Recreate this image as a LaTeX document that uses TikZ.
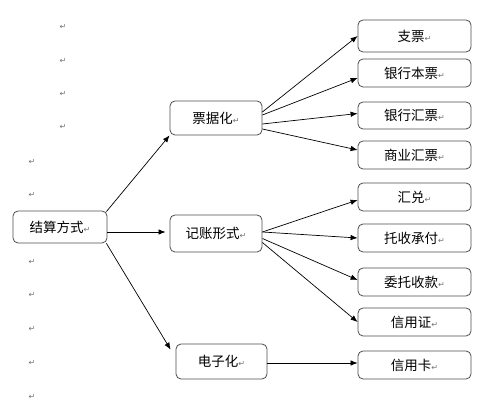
\documentclass[tikz,border=0pt]{standalone}
\usepackage{fontspec}
\setmainfont{Noto Sans CJK SC}
\newfontfamily\retfont{DejaVu Sans}
\usetikzlibrary{arrows.meta}
\newcommand\retmark{{\retfont\fontsize{8}{8}\selectfont\textcolor{black!55}{↵}}}
\begin{document}
\begin{tikzpicture}[x=1pt, y=-1pt,
  box/.style={draw=black!70, line width=0.8pt, rounded corners=5pt, inner sep=0pt,
    font=\fontsize{13.5}{14}\selectfont},
  leaf/.style={box, minimum width=113pt, minimum height=28pt},
  arr/.style={-{Latex[length=7pt,width=5.5pt]}, line width=0.7pt}]
\useasboundingbox (0,0) rectangle (499,403);
% paragraph marks on the left
\foreach \y [count=\i] in {27,61,94,127}
  \node[inner sep=0pt] (ma\i) at (63,\y) {\retmark};
\foreach \y [count=\i] in {162,195,262,295,329,363,397}
  \node[inner sep=0pt] (mb\i) at (32,\y) {\retmark};
% main boxes
\node[box, minimum width=94pt, minimum height=32pt] (jsfs) at (60,227) {结算方式\retmark};
\node[box, minimum width=92pt, minimum height=34pt] (pjh) at (216,118) {票据化\retmark};
\node[box, minimum width=92pt, minimum height=37pt] (jzxs) at (216,233.5) {记账形式\retmark};
\node[box, minimum width=91pt, minimum height=35pt] (dzh) at (221.5,361.5) {电子化\retmark};
% leaves
\node[leaf, minimum height=32pt] (zp) at (414.5,36) {支票\retmark};
\node[leaf] (yhbp) at (414.5,73) {银行本票\retmark};
\node[leaf, minimum height=27pt] (yhhp) at (414.5,115.5) {银行汇票\retmark};
\node[leaf] (syhp) at (414.5,155) {商业汇票\retmark};
\node[leaf] (hd) at (414.5,197) {汇兑\retmark};
\node[leaf] (tscf) at (414.5,238) {托收承付\retmark};
\node[leaf] (wtsk) at (414.5,282) {委托收款\retmark};
\node[leaf] (xyz) at (414.5,322) {信用证\retmark};
\node[leaf] (xyk) at (414.5,365) {信用卡\retmark};
% arrows
\draw[arr] ([xshift=-1pt,yshift=-1pt]jsfs.north east) -- (pjh.south west);
\draw[arr] ([yshift=-5pt]jsfs.east) -- ([xshift=-4pt,yshift=1.5pt]jzxs.west);
\draw[arr] ([xshift=-1pt]jsfs.south east) -- ([xshift=-5pt,yshift=-6pt]dzh.north west);
\draw[arr] ([yshift=6pt]pjh.east) -- (zp.west);
\draw[arr] ([yshift=3pt]pjh.east) -- ([yshift=-5pt]yhbp.west);
\draw[arr] ([yshift=-6pt]pjh.east) -- ([yshift=2pt]yhhp.west);
\draw[arr] ([yshift=-11pt]pjh.east) -- ([yshift=5pt]syhp.west);
\draw[arr] ([yshift=1.5pt]jzxs.east) -- ([yshift=-3pt]hd.west);
\draw[arr] ([yshift=1.5pt]jzxs.east) -- (tscf.west);
\draw[arr] ([yshift=-5pt]jzxs.east) -- ([yshift=2pt]wtsk.west);
\draw[arr] ([yshift=-9pt]jzxs.east) -- (xyz.west);
\draw[arr] ([yshift=-1.5pt]dzh.east) -- ([yshift=2pt]xyk.west);
\end{tikzpicture}
\end{document}
